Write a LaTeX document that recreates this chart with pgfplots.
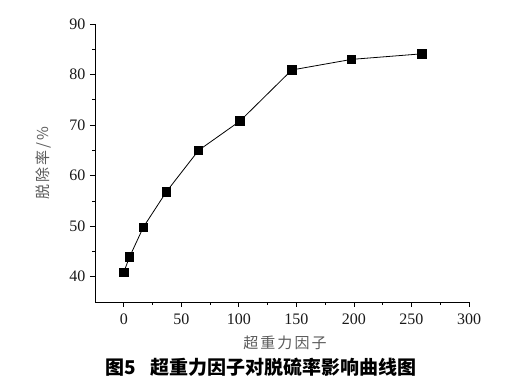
\documentclass[border=0pt]{standalone}
\usepackage{fontspec}
\setmainfont{Liberation Serif}
\newfontfamily\cjk{Noto Sans CJK SC}
\newfontfamily\cjkl[LetterSpace=14]{Noto Sans CJK SC}
\usepackage{pgfplots}
\pgfplotsset{compat=1.18}
\definecolor{labgray}{RGB}{90,90,90}
\begin{document}
\begin{tikzpicture}
\path (0bp,0bp) rectangle (507bp,392bp);
\begin{axis}[
  at={(95bp,90bp)}, anchor=south west,
  scale only axis, width=374bp, height=278bp,
  xmin=-25, xmax=300, ymin=35, ymax=90,
  axis x line=bottom, axis y line=left,
  axis line style={-, line width=0.9pt},
  xtick={0,50,100,150,200,250,300},
  ytick={40,50,60,70,80,90},
  minor x tick num=1, minor y tick num=1,
  tick align=outside,
  major tick length=5bp, minor tick length=3bp,
  tick style={black, line width=0.8pt},
  /pgf/number format/assume math mode=true,
  ticklabel style={font=\fontsize{16bp}{18bp}\selectfont, text=black!90},
  xticklabel style={yshift=-3bp},
  yticklabel style={xshift=-1bp},
  clip=false,
]
\addplot[black, line width=0.8pt, mark=square*, mark size=4.2bp, mark options={fill=black}]
coordinates {
(0,40.9) (5,43.9) (17,49.8) (37,56.8) (65,65.0) (101,70.8) (146,80.9) (198,83.0) (259,84.1)
};
\end{axis}
\node[text=labgray, font=\cjkl\fontsize{15bp}{17bp}\selectfont] at (285bp,49bp) {超重力因子};
\node[text=labgray, rotate=90, font=\cjkl\fontsize{15bp}{17bp}\selectfont] at (43bp,229bp) {脱除率/\%};
\node[font=\cjk\bfseries\fontsize{19bp}{21bp}\selectfont] at (261bp,25bp) {图5\hspace{14bp}超重力因子对脱硫率影响曲线图};
\end{tikzpicture}
\end{document}
